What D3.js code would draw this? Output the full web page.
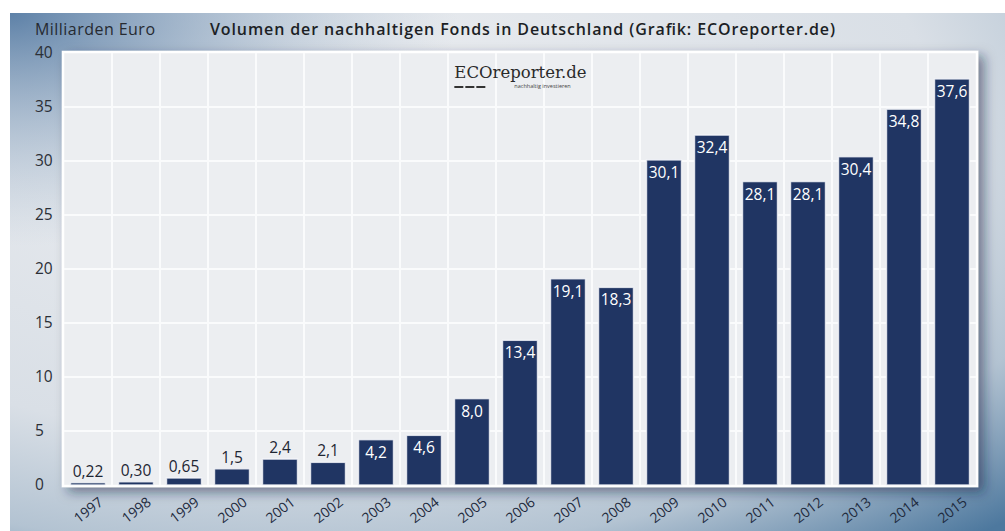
<!DOCTYPE html>
<html>
<head>
<meta charset="utf-8">
<script src="https://cdn.jsdelivr.net/npm/d3@7"></script>
<style>
  body { margin: 0; background: #fff; }
  svg { display: block; font-family: "Open Sans", "Noto Sans", sans-serif; }
</style>
</head>
<body>
<div id="chart"></div>
<script>
const years = ["1997", "1998", "1999", "2000", "2001", "2002", "2003", "2004", "2005", "2006",
    "2007", "2008", "2009", "2010", "2011", "2012", "2013", "2014", "2015"];
const volumes = [0.22, 0.30, 0.65, 1.5, 2.4, 2.1, 4.2, 4.6, 8.0, 13.4,
    19.1, 18.3, 30.1, 32.4, 28.1, 28.1, 30.4, 34.8, 37.6];
const yTicks = [0, 5, 10, 15, 20, 25, 30, 35, 40];

const width = 1005,
    height = 531,
    margin = { left: 64, right: 29, top: 53, bottom: 46 };

const de = d3.formatLocale({ decimal: ",", thousands: ".", grouping: [3], currency: ["", " €"] });
const fmt2 = de.format(".2f"), fmt1 = de.format(".1f");
const label = d => d < 1 ? fmt2(d) : fmt1(d);

const svg = d3.select("#chart").append("svg")
    .attr("width", width)
    .attr("height", height);

const defs = svg.append("defs");

// background: light grey, blue towards top-left and bottom-right
const bg = defs.append("radialGradient").attr("id", "bg")
    .attr("cx", "30%").attr("cy", "20%").attr("r", "105%");
bg.append("stop").attr("offset", "0%").attr("stop-color", "#eceef1");
bg.append("stop").attr("offset", "60%").attr("stop-color", "#d9dfe6");
bg.append("stop").attr("offset", "80%").attr("stop-color", "#b3c3d2");
bg.append("stop").attr("offset", "100%").attr("stop-color", "#4d789e");

const corner = defs.append("radialGradient").attr("id", "corner")
    .attr("cx", "0%").attr("cy", "0%").attr("r", "45%");
corner.append("stop").attr("offset", "0%").attr("stop-color", "#4f76a0").attr("stop-opacity", 0.9);
corner.append("stop").attr("offset", "100%").attr("stop-color", "#9fb4ca").attr("stop-opacity", 0);

const shadow = defs.append("filter").attr("id", "shadow")
    .attr("x", "-5%").attr("y", "-5%").attr("width", "115%").attr("height", "120%");
shadow.append("feDropShadow").attr("dx", 6).attr("dy", 5).attr("stdDeviation", 6)
    .attr("flood-color", "#0d2440").attr("flood-opacity", 0.5);

svg.append("rect").attr("x", 10).attr("y", 13).attr("width", width - 10).attr("height", height - 13)
    .attr("fill", "url(#bg)");
svg.append("rect").attr("x", 10).attr("y", 13).attr("width", width - 10).attr("height", height - 13)
    .attr("fill", "url(#corner)");

const chartWidth = width - margin.left - margin.right;
const chartHeight = height - margin.top - margin.bottom;

const xScale = d3.scaleBand().domain(years).range([0, chartWidth]).paddingInner(0.27).paddingOuter(0.135);
const yScale = d3.scaleLinear().domain([0, 40]).range([chartHeight, 0]);

const g = svg.append("g").attr("transform", "translate(" + margin.left + "," + margin.top + ")");

// panel
g.append("rect")
    .attr("x", -1).attr("y", -1)
    .attr("width", chartWidth + 2).attr("height", chartHeight + 2)
    .attr("fill", "#eceef1")
    .attr("stroke", "#ffffff").attr("stroke-width", 2.5)
    .attr("filter", "url(#shadow)");

// grid lines
g.append("g").selectAll("line").data(yTicks.slice(1, -1)).join("line")
    .attr("x1", 0).attr("x2", chartWidth)
    .attr("y1", d => yScale(d)).attr("y2", d => yScale(d))
    .attr("stroke", "#fafbfc").attr("stroke-width", 2);

const step = xScale.step();
g.append("g").selectAll("line").data(years.slice(1)).join("line")
    .attr("x1", d => xScale(d) - (step - xScale.bandwidth()) / 2)
    .attr("x2", d => xScale(d) - (step - xScale.bandwidth()) / 2)
    .attr("y1", 0).attr("y2", chartHeight)
    .attr("stroke", "#fafbfc").attr("stroke-width", 2);

// logo
const logo = g.append("g").attr("transform", "translate(" + (chartWidth * 0.428) + ",25)");
logo.append("text").attr("x", 0).attr("y", 0)
    .style("font-family", "'DejaVu Serif', 'Liberation Serif', serif")
    .style("font-size", "16.5px").attr("fill", "#2a2a2a")
    .text("ECOreporter.de");
logo.append("line").attr("x1", 0).attr("x2", 32).attr("y1", 9).attr("y2", 9)
    .attr("stroke", "#333").attr("stroke-width", 2).attr("stroke-dasharray", "9,2");
logo.append("text").attr("x", 60).attr("y", 10)
    .style("font-size", "5.5px").attr("fill", "#444")
    .text("nachhaltig investieren");

// bars
g.append("g").selectAll("rect").data(volumes).join("rect")
    .attr("x", (d, i) => xScale(years[i]))
    .attr("y", d => yScale(d))
    .attr("width", xScale.bandwidth())
    .attr("height", d => yScale(0) - yScale(d))
    .attr("fill", "#203563")
    .attr("stroke", "#f6f8fb").attr("stroke-width", 1.5).attr("stroke-opacity", 0.8);

// value labels
g.append("g").selectAll("text").data(volumes).join("text")
    .attr("x", (d, i) => xScale(years[i]) + xScale.bandwidth() / 2)
    .attr("y", d => d >= 4 ? yScale(d) + 18 : yScale(d) - 6)
    .attr("text-anchor", "middle")
    .style("font-size", "15.5px")
    .attr("fill", d => d >= 4 ? "#ffffff" : "#1e2633")
    .text(label);

// y axis labels
svg.append("g").selectAll("text").data(yTicks).join("text")
    .attr("x", 35)
    .attr("y", d => margin.top + yScale(d) + 5)
    .style("font-size", "15.5px")
    .attr("fill", "#2b2f36")
    .text(d => d);

// x axis labels
svg.append("g").selectAll("text").data(years).join("text")
    .attr("transform", d => "translate(" + (margin.left + xScale(d) + xScale.bandwidth() / 2 + 16) + "," + (height - 27) + ") rotate(-38)")
    .attr("text-anchor", "end")
    .style("font-size", "14px")
    .attr("fill", "#1e2a3d")
    .text(d => d);

// titles
svg.append("text").attr("x", 35).attr("y", 35)
    .style("font-size", "16px").attr("fill", "#262a31")
    .attr("textLength", 120)
    .text("Milliarden Euro");
svg.append("text").attr("x", 210).attr("y", 35)
    .style("font-size", "16px").style("font-weight", "600").attr("fill", "#1c1f25")
    .attr("textLength", 625)
    .text("Volumen der nachhaltigen Fonds in Deutschland (Grafik: ECOreporter.de)");
</script>
</body>
</html>
